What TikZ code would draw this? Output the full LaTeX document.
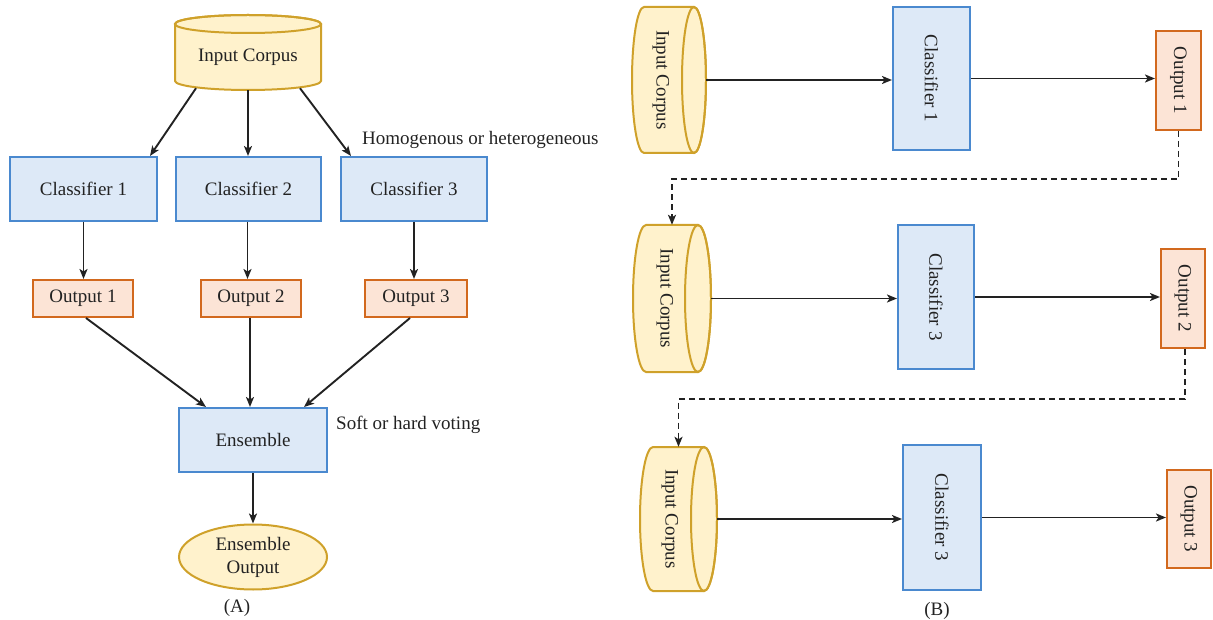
\documentclass[tikz,border=0pt]{standalone}
\usepackage{fontspec}
\setmainfont{Liberation Serif}
\usetikzlibrary{arrows.meta,calc,shapes.geometric}
\definecolor{clsfill}{HTML}{DDE9F7}
\definecolor{clsdraw}{HTML}{4A89CF}
\definecolor{outfill}{HTML}{FCE4D6}
\definecolor{outdraw}{HTML}{D2691E}
\definecolor{dbfill}{HTML}{FFF2CC}
\definecolor{dbdraw}{HTML}{CFA12A}
\definecolor{ink}{HTML}{222222}
\begin{document}
\begin{tikzpicture}[x=1pt,y=-1pt,
  every node/.style={font=\fontsize{19}{23}\selectfont, text=ink, inner sep=0pt},
  clsbox/.style={draw=clsdraw, fill=clsfill, line width=2pt},
  outbox/.style={draw=outdraw, fill=outfill, line width=2pt},
  dbbody/.style={draw=dbdraw, fill=dbfill, line width=2pt},
  dbrim/.style={draw=dbdraw, line width=2pt},
  flow/.style={draw=ink, line width=1.9pt, -{Stealth[length=10pt,width=8pt,inset=2.5pt]}},
  feedback/.style={flow, dash pattern=on 6pt off 4pt},
]
\useasboundingbox (0,0) rectangle (1213,620);

% ---------------- (A) parallel ensemble ----------------
% upright corpus cylinder
\path[dbbody] (175,24) -- (175,81)
  arc[start angle=180, end angle=360, x radius=73pt, y radius=9pt] -- (321,24)
  arc[start angle=0, end angle=180, x radius=73pt, y radius=9pt] -- cycle;
\draw[dbrim] (248,24) ellipse[x radius=73pt, y radius=9pt];
\node[minimum width=146pt, minimum height=66pt] (corpusA) at (248,57) {Input Corpus};

\node[clsbox, minimum width=147pt, minimum height=64pt] (clsA1) at (83.5,189) {Classifier 1};
\node[clsbox, minimum width=145pt, minimum height=64pt] (clsA2) at (248.5,189) {Classifier 2};
\node[clsbox, minimum width=146pt, minimum height=64pt] (clsA3) at (414,189) {Classifier 3};
\node[anchor=west] (noteA) at (362,140) {Homogenous or heterogeneous};

\node[outbox, minimum width=100pt, minimum height=37pt] (outA1) at (83,298.5) {Output 1};
\node[outbox, minimum width=100pt, minimum height=37pt] (outA2) at (251,298.5) {Output 2};
\node[outbox, minimum width=102pt, minimum height=37pt] (outA3) at (416,298.5) {Output 3};

\node[clsbox, minimum width=148pt, minimum height=64pt] (ens) at (253,440) {Ensemble};
\node[anchor=west] (vote) at (336,425) {Soft or hard voting};
\node[ellipse, dbbody, minimum width=148pt, minimum height=65pt, align=center] (ensout) at (253,557) {Ensemble\\Output};
\node (capA) at (237,608) {(A)};

\draw[flow] ([xshift=-52pt,yshift=2pt]corpusA.south) -- ([xshift=-8pt]clsA1.north east);
\draw[flow] (corpusA.south) -- (corpusA.south |- clsA2.north);
\draw[flow] ([xshift=52pt,yshift=2pt]corpusA.south) -- ([xshift=11pt]clsA3.north west);
\draw[flow] (clsA1.south) -- (clsA1.south |- outA1.north);
\draw[flow] ([xshift=-1pt]clsA2.south) -- ([xshift=-1pt]clsA2.south |- outA2.north);
\draw[flow] (clsA3.south) -- (clsA3.south |- outA3.north);
\draw[flow] ([xshift=3pt]outA1.south) -- ([xshift=28pt]ens.north west);
\draw[flow] ([xshift=-1pt]outA2.south) -- ([xshift=-1pt]outA2.south |- ens.north);
\draw[flow] ([xshift=-6pt]outA3.south) -- ([xshift=-24pt]ens.north east);
\draw[flow] (ens.south) -- (ensout.north);

% ---------------- (B) sequential chain ----------------
% lying corpus cylinders, rim on the right
\path[dbbody] (694,7) -- (644,7)
  arc[start angle=90, end angle=270, x radius=12pt, y radius=73pt] -- (694,153)
  arc[start angle=-90, end angle=90, x radius=12pt, y radius=73pt] -- cycle;
\draw[dbrim] (694,80) ellipse[x radius=12pt, y radius=73pt];
\node[minimum width=74pt, minimum height=146pt] (corpusB1) at (669,80) {\rotatebox{-90}{Input Corpus}\hspace*{16pt}};

\path[dbbody] (698,225) -- (646,225)
  arc[start angle=90, end angle=270, x radius=13pt, y radius=73.5pt] -- (698,372)
  arc[start angle=-90, end angle=90, x radius=13pt, y radius=73.5pt] -- cycle;
\draw[dbrim] (698,298.5) ellipse[x radius=13pt, y radius=73.5pt];
\node[minimum width=78pt, minimum height=147pt] (corpusB2) at (672,298.5) {\rotatebox{-90}{Input Corpus}\hspace*{14pt}};

\path[dbbody] (704,447) -- (653,447)
  arc[start angle=90, end angle=270, x radius=13pt, y radius=72pt] -- (704,591)
  arc[start angle=-90, end angle=90, x radius=13pt, y radius=72pt] -- cycle;
\draw[dbrim] (704,519) ellipse[x radius=13pt, y radius=72pt];
\node[minimum width=77pt, minimum height=144pt] (corpusB3) at (678.5,519) {\rotatebox{-90}{Input Corpus}\hspace*{17pt}};

\node[clsbox, minimum width=77pt, minimum height=143pt] (clsB1) at (931.5,78.5) {\rotatebox{-90}{Classifier 1}};
\node[clsbox, minimum width=76pt, minimum height=144pt] (clsB2) at (936,297) {\rotatebox{-90}{Classifier 3}};
\node[clsbox, minimum width=78pt, minimum height=145pt] (clsB3) at (942,517.5) {\rotatebox{-90}{Classifier 3}};

\node[outbox, minimum width=45pt, minimum height=99pt] (outB1) at (1178.5,80.5) {\rotatebox{-90}{Output 1}};
\node[outbox, minimum width=44pt, minimum height=99pt] (outB2) at (1183,298.5) {\rotatebox{-90}{Output 2}};
\node[outbox, minimum width=44pt, minimum height=98pt] (outB3) at (1189,519) {\rotatebox{-90}{Output 3}};

\node (capB) at (937,611) {(B)};

\draw[flow] (corpusB1.east) -- (corpusB1.east -| clsB1.west);
\draw[flow] (clsB1.east) -- (clsB1.east -| outB1.west);
\draw[feedback] (outB1.south) -- ++(0,48) -| (corpusB2.north);

\draw[flow] (corpusB2.east) -- (corpusB2.east -| clsB2.west);
\draw[flow] (clsB2.east) -- (clsB2.east -| outB2.west);
\draw[feedback] ([xshift=2pt]outB2.south) -- ++(0,50) -| (corpusB3.north);

\draw[flow] (corpusB3.east) -- (corpusB3.east -| clsB3.west);
\draw[flow] (clsB3.east) -- (clsB3.east -| outB3.west);
\end{tikzpicture}
\end{document}
